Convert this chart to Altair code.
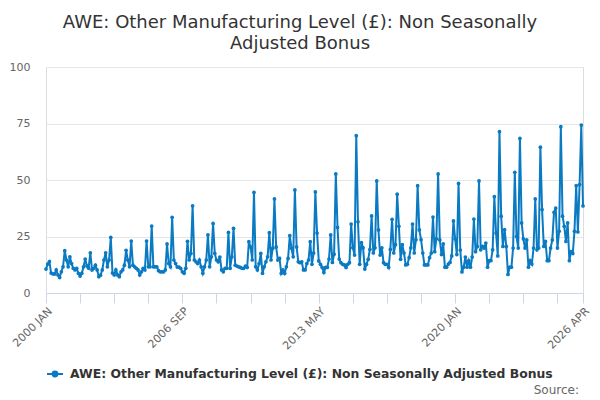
import altair as alt
import pandas as pd

SERIES = "AWE: Other Manufacturing Level (£): Non Seasonally Adjusted Bonus"
TITLE_LINES = ["AWE: Other Manufacturing Level (£): Non Seasonally", "Adjusted Bonus"]

# monthly values, Jan..Dec, 2000 JAN .. 2026 APR
y2000 = [10.6, 12.8, 13.9, 8.8, 8.5, 8.4, 10.2, 8.0, 6.9, 9.4, 11.6, 18.7]
y2001 = [14.6, 11.6, 16.0, 13.0, 10.9, 10.2, 10.9, 8.7, 7.5, 8.7, 11.6, 15.0]
y2002 = [12.0, 11.0, 17.8, 10.2, 10.9, 12.3, 10.2, 7.2, 7.9, 10.2, 14.6, 17.8]
y2003 = [11.6, 14.6, 24.6, 8.8, 8.0, 10.2, 8.0, 7.2, 9.4, 10.2, 12.3, 18.9]
y2004 = [14.6, 11.6, 23.0, 12.3, 11.6, 10.9, 10.2, 8.0, 9.4, 10.9, 10.2, 23.0]
y2005 = [11.6, 11.6, 29.6, 11.6, 11.6, 11.6, 9.9, 9.4, 9.4, 9.4, 10.2, 21.7]
y2006 = [13.0, 11.6, 33.5, 14.6, 13.0, 11.5, 11.5, 10.9, 9.4, 8.7, 10.9, 22.9]
y2007 = [14.6, 17.5, 38.6, 14.6, 13.8, 13.0, 14.6, 11.6, 8.7, 11.6, 14.6, 25.7]
y2008 = [11.6, 16.0, 30.8, 17.5, 14.6, 13.8, 15.9, 10.2, 9.4, 10.9, 10.9, 26.8]
y2009 = [10.9, 16.0, 28.6, 12.3, 11.9, 11.6, 11.3, 10.9, 10.9, 11.9, 11.3, 22.7]
y2010 = [20.4, 14.6, 44.5, 11.6, 10.2, 13.0, 17.5, 8.7, 11.6, 13.8, 16.0, 26.7]
y2011 = [14.6, 19.8, 41.6, 20.4, 14.6, 15.3, 8.7, 10.2, 8.7, 11.6, 15.3, 25.4]
y2012 = [19.8, 16.0, 45.6, 20.4, 13.8, 13.4, 13.8, 10.2, 10.2, 13.0, 14.6, 22.7]
y2013 = [12.7, 17.7, 44.7, 26.5, 14.2, 12.7, 11.3, 9.1, 11.3, 11.3, 15.0, 25.7]
y2014 = [13.5, 17.2, 52.7, 29.0, 15.0, 13.4, 12.7, 12.4, 11.3, 12.7, 13.4, 30.5]
y2015 = [20.0, 16.8, 69.6, 31.5, 12.7, 22.3, 20.0, 10.6, 12.7, 14.9, 19.3, 34.1]
y2016 = [17.7, 20.0, 49.6, 27.9, 16.8, 20.0, 13.4, 12.7, 12.7, 11.3, 19.3, 32.6]
y2017 = [17.7, 21.4, 43.7, 29.5, 14.9, 21.4, 17.7, 12.4, 12.7, 15.6, 20.0, 30.5]
y2018 = [17.7, 23.6, 47.5, 27.9, 23.6, 17.7, 12.4, 12.4, 12.4, 15.6, 17.7, 33.6]
y2019 = [18.3, 24.0, 52.7, 23.5, 17.0, 21.7, 11.4, 11.4, 12.8, 13.5, 16.4, 31.9]
y2020 = [24.0, 17.0, 48.5, 19.0, 9.3, 11.4, 15.9, 11.4, 14.3, 11.4, 15.9, 32.7]
y2021 = [18.3, 20.6, 49.6, 19.1, 20.6, 19.9, 22.1, 11.4, 14.3, 14.3, 19.1, 42.6]
y2022 = [26.5, 16.4, 71.4, 34.0, 20.6, 28.0, 20.6, 8.2, 11.4, 11.4, 19.9, 53.4]
y2023 = [25.0, 19.9, 68.4, 31.0, 24.0, 19.9, 23.5, 11.4, 14.3, 12.8, 19.9, 41.6]
y2024 = [19.1, 19.9, 64.5, 36.9, 20.6, 22.8, 14.3, 14.3, 19.9, 23.5, 35.7, 37.6]
y2025 = [19.9, 27.3, 73.6, 34.0, 29.5, 22.8, 31.0, 14.3, 18.3, 17.5, 27.3, 47.5]
y2026 = [27.0, 48.0, 74.3, 38.5]

years = [y2000, y2001, y2002, y2003, y2004, y2005, y2006, y2007, y2008, y2009,
         y2010, y2011, y2012, y2013, y2014, y2015, y2016, y2017, y2018, y2019,
         y2020, y2021, y2022, y2023, y2024, y2025, y2026]
values = [v for yr in years for v in yr]

tick_values = list(range(0, 301, 20)) + [315]
tick_labels = {0: "2000 JAN", 80: "2006 SEP", 160: "2013 MAY", 240: "2020 JAN", 315: "2026 APR"}
y_ticks = [0, 25, 50, 75, 100]

df = pd.DataFrame({"m": list(range(len(values))), "v": values, "s": [SERIES] * len(values)})
src = pd.DataFrame({"t": ["Source:"]})

label_expr = " : ".join(f"datum.value == {k} ? '{v}'" for k, v in tick_labels.items()) + " : ''"

COLOR = "#0a7ac2"
FONT = "DejaVu Sans"
legend_symbol = "M-1,0H1M-0.3,0A0.3,0.3,0,1,1,0.3,0A0.3,0.3,0,1,1,-0.3,0Z"

line = alt.Chart(df).mark_line(
    strokeWidth=2,
    point=alt.OverlayMarkDef(size=14, filled=True, opacity=1),
).encode(
    x=alt.X("m:Q",
            scale=alt.Scale(domain=[0, 315], nice=False, zero=False),
            axis=alt.Axis(values=tick_values, labelExpr=label_expr, title=None,
                          labelAngle=-45, labelAlign="right", labelBaseline="top",
                          labelFont=FONT, labelFontSize=11, labelColor="#666666",
                          domainColor="#ccd6eb", tickColor="#ccd6eb", tickSize=10,
                          labelPadding=2, grid=False, labelOverlap=False, labelBound=False,
                          labelFlush=False)),
    y=alt.Y("v:Q",
            scale=alt.Scale(domain=[0, 100], nice=False),
            axis=alt.Axis(values=y_ticks, title=None, domain=False, ticks=False,
                          labelFont=FONT, labelFontSize=11, labelColor="#666666",
                          labelPadding=16, gridColor="#e6e6e6", grid=True)),
    color=alt.Color("s:N",
                    scale=alt.Scale(domain=[SERIES], range=[COLOR]),
                    legend=alt.Legend(title=None, orient="none", legendX=0, legendY=298,
                                      symbolType=legend_symbol, symbolSize=256,
                                      symbolStrokeWidth=2, symbolStrokeColor=COLOR,
                                      symbolFillColor=COLOR,
                                      labelFont=FONT, labelFontSize=12.4, labelFontWeight="bold",
                                      labelColor="#333333", labelLimit=0, labelOffset=6)),
)

source = alt.Chart(src).mark_text(
    align="right", baseline="alphabetic", font=FONT, fontSize=12, color="#666666"
).encode(text="t:N", x=alt.value(533), y=alt.value(327))

chart = alt.layer(line, source).properties(
    width=537,
    height=226,
    title=alt.TitleParams(text=TITLE_LINES, fontSize=18, font=FONT, fontWeight="normal",
                          color="#333333", anchor="middle", dx=-14.5, offset=8,
                          lineHeight=21),
    autosize=alt.AutoSizeParams(type="none"),
    padding={"left": 38, "top": 59, "right": 9, "bottom": 107},
).configure_view(stroke=None).configure(background="white")

chart.save("out.html", embed_options={"renderer": "svg", "actions": False})
